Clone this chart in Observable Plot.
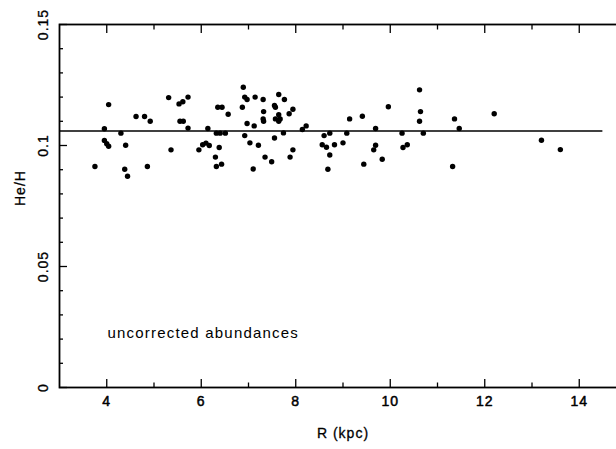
<!DOCTYPE html>
<html>
<head>
<meta charset="utf-8">
<script src="https://cdn.jsdelivr.net/npm/d3@7"></script>
<script src="https://cdn.jsdelivr.net/npm/@observablehq/plot@0.6"></script>
<style>
  html, body { margin: 0; padding: 0; background: #fff; }
  #chart svg text { letter-spacing: 1px; }
  #chart svg .annot text { letter-spacing: 1.2px; }
</style>
</head>
<body>
<div id="chart"></div>
<script>
// Galactocentric radius (kpc)
const R = [
  3.75, 3.95, 4.04, 3.95, 4.00, 4.04, 4.30, 4.40, 4.38, 4.44,
  4.62, 4.80, 4.92, 4.86, 5.31, 5.36, 5.53, 5.61, 5.72, 5.55,
  5.62, 5.72, 5.95, 6.03, 6.10, 6.17, 6.14, 6.30, 6.32, 6.43,
  6.38, 6.35, 6.44, 6.32, 6.40, 6.51, 6.57, 6.89, 6.87, 6.92,
  6.97, 7.14, 6.97, 6.92, 7.03, 7.10, 7.12, 7.21, 7.31, 7.32,
  7.31, 7.32, 7.35, 7.49, 7.55, 7.57, 7.64, 7.76, 7.57, 7.64,
  7.67, 7.64, 7.86, 7.94, 7.55, 7.74, 7.88, 7.94, 8.14, 8.22,
  8.60, 8.72, 8.56, 8.65, 8.82, 8.72, 8.68, 9.00, 9.08, 9.14,
  9.41, 9.44, 9.69, 9.69, 9.65, 9.83, 9.96, 10.25, 10.27, 10.36,
  10.62, 10.64, 10.62, 10.70, 11.32, 11.36, 11.46, 12.20, 13.20, 13.60
];
// He/H abundance
const HeH = [
  0.0913, 0.1069, 0.1169, 0.1021, 0.1007, 0.0997, 0.1051, 0.1001, 0.0902, 0.0873,
  0.1120, 0.1120, 0.1100, 0.0913, 0.1198, 0.0982, 0.1172, 0.1181, 0.1200, 0.1100,
  0.1100, 0.1072, 0.0982, 0.1003, 0.1010, 0.1000, 0.1070, 0.0952, 0.0913, 0.0923,
  0.0992, 0.1158, 0.1158, 0.1051, 0.1051, 0.1051, 0.1129, 0.1241, 0.1158, 0.1200,
  0.1190, 0.1200, 0.1091, 0.1041, 0.1011, 0.0903, 0.1081, 0.1001, 0.1190, 0.1140,
  0.1110, 0.1100, 0.0952, 0.0933, 0.1165, 0.1158, 0.1211, 0.1190, 0.1110, 0.1127,
  0.1110, 0.1100, 0.1131, 0.1150, 0.1031, 0.1052, 0.0952, 0.0982, 0.1066, 0.1081,
  0.1041, 0.1051, 0.1003, 0.0993, 0.1003, 0.0961, 0.0902, 0.1011, 0.1051, 0.1110,
  0.1121, 0.0923, 0.1070, 0.1001, 0.0982, 0.0943, 0.1160, 0.1051, 0.0992, 0.1003,
  0.1230, 0.1140, 0.1100, 0.1051, 0.0913, 0.1110, 0.1070, 0.1131, 0.1022, 0.0983
];
// Mean He/H line and its extent in R
const meanHeH = [0.106];
const meanRange = [3, 14.5];

const xDomain = [3, 15];
const yDomain = [0, 0.15];
const xMajor = [4, 6, 8, 10, 12, 14];
const xMinor = [5, 7, 9, 11, 13];
const yMajor = [0, 0.05, 0.1, 0.15];
const yLabels = ["0", "0.05", "0.1", "0.15"];
const yMinor = [0.01, 0.02, 0.03, 0.04, 0.06, 0.07, 0.08, 0.09, 0.11, 0.12, 0.13, 0.14];
const xTitle = ["R (kpc)"];
const yTitle = ["He/H"];
const annotation = ["uncorrected abundances"];

const data = R.map((r, i) => ({R: r, HeH: HeH[i]}));
const meanLine = meanHeH.map(v => ({HeH: v, R1: meanRange[0], R2: meanRange[1]}));

const chart = Plot.plot({
  width: 616,
  height: 449,
  marginLeft: 59,
  marginRight: -10,
  marginTop: 24,
  marginBottom: 62,
  x: {domain: xDomain},
  y: {domain: yDomain},
  style: {fontFamily: "'Liberation Sans', Arial, Helvetica, sans-serif", fontSize: "14px", color: "#000", background: "#fff"},
  marks: [
    Plot.frame({stroke: "#000", strokeWidth: 1.8}),
    // inward ticks: bottom & top
    Plot.axisX(xMajor, {anchor: "bottom", tickSize: 8, dy: -8, fill: "none", label: null, strokeWidth: 1.3}),
    Plot.axisX(xMinor, {anchor: "bottom", tickSize: 4.5, dy: -4.5, fill: "none", label: null, strokeWidth: 1.3}),
    Plot.axisX(xMajor, {anchor: "top", tickSize: 8, dy: 8, fill: "none", label: null, strokeWidth: 1.3}),
    Plot.axisX(xMinor, {anchor: "top", tickSize: 4.5, dy: 4.5, fill: "none", label: null, strokeWidth: 1.3}),
    // inward ticks: left
    Plot.axisY(yMajor, {anchor: "left", tickSize: 8, dx: 8, fill: "none", label: null, strokeWidth: 1.3}),
    Plot.axisY(yMinor, {anchor: "left", tickSize: 4, dx: 4, fill: "none", label: null, strokeWidth: 1.3}),
    // tick labels
    Plot.axisX(xMajor, {anchor: "bottom", tickSize: 0, tickPadding: 9, label: null, fontSize: 14,
      fill: "#000", textStroke: "#000", textStrokeWidth: 0.5}),
    Plot.axisY(yMajor, {anchor: "left", tickSize: 0, tickPadding: 16, rotate: -90, textAnchor: "middle",
      tickFormat: d => yLabels[yMajor.indexOf(d)], label: null, fontSize: 14,
      fill: "#000", textStroke: "#000", textStrokeWidth: 0.3}),
    // axis titles
    Plot.text(xTitle, {frameAnchor: "bottom", dy: 46, text: d => d, fontSize: 14, lineAnchor: "middle",
      fill: "#000", stroke: "#000", strokeWidth: 0.3}),
    Plot.text(yTitle, {frameAnchor: "left", dx: -39, rotate: -90, text: d => d, fontSize: 14, lineAnchor: "middle",
      fill: "#000", stroke: "#000", strokeWidth: 0.3}),
    // mean line
    Plot.ruleY(meanLine, {y: "HeH", x1: "R1", x2: "R2", stroke: "#000", strokeWidth: 1.4}),
    // data
    Plot.dot(data, {x: "R", y: "HeH", r: 2.7, fill: "#000", stroke: "none"}),
    // annotation
    Plot.text(annotation, {frameAnchor: "bottom-left", dx: 48, dy: -54, text: d => d, textAnchor: "start",
      lineAnchor: "middle", fontSize: 15, fill: "#000", className: "annot"})
  ]
});
document.getElementById("chart").appendChild(chart);
</script>
</body>
</html>
